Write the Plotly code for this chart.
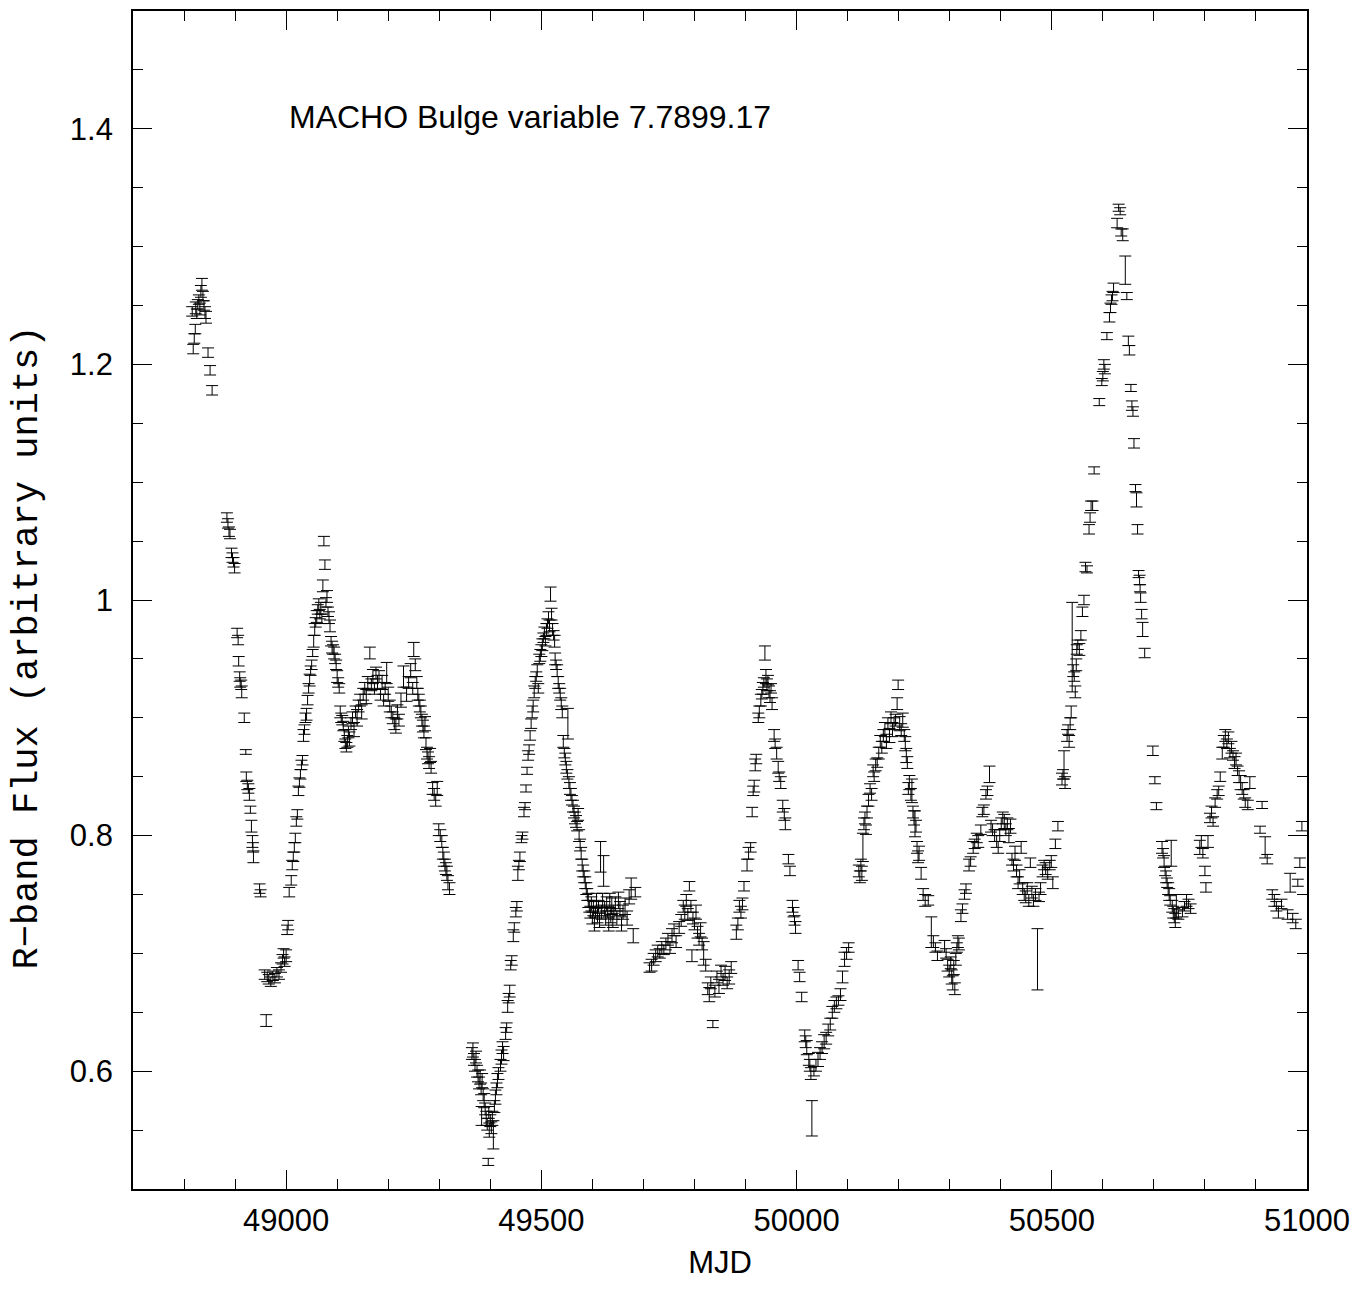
import plotly.graph_objects as go

# (MJD, R-band flux, error), one list per observing season
season_1 = [
    (48816,1.245,0.004),(48818,1.213,0.004),(48820,1.222,0.004),(48822,1.230,0.004),(48823,1.248,0.005),
    (48825,1.243,0.004),(48827,1.251,0.004),(48829,1.255,0.004),(48831,1.247,0.005),(48833,1.262,0.005),
    (48835,1.268,0.005),(48837,1.258,0.004),(48839,1.250,0.004),(48841,1.244,0.005),(48843,1.240,0.005),
    (48847,1.210,0.004),(48851,1.195,0.004),(48855,1.178,0.004),
    (48884,1.070,0.004),(48886,1.065,0.004),(48888,1.058,0.004),(48890,1.056,0.004),(48893,1.040,0.004),
    (48895,1.036,0.004),(48897,1.032,0.004),(48899,1.027,0.004),
    (48904,0.972,0.004),(48906,0.966,0.004),(48907,0.948,0.004),(48909,0.935,0.004),(48910,0.930,0.004),
    (48912,0.928,0.004),(48913,0.922,0.005),(48918,0.900,0.004),(48921,0.871,0.002),(48922,0.850,0.004),
    (48924,0.843,0.004),(48926,0.840,0.004),(48928,0.835,0.005),(48930,0.822,0.003),(48932,0.808,0.005),
    (48934,0.795,0.005),(48935,0.790,0.004),(48936,0.782,0.005),(48948,0.755,0.004),(48950,0.751,0.003),
    (48958,0.682,0.004),(48961,0.643,0.005),(48963,0.680,0.004),(48966,0.678,0.004),(48970,0.676,0.004),
    (48974,0.681,0.004),(48978,0.679,0.004),(48982,0.684,0.004),(48986,0.682,0.004),(48990,0.688,0.004),
    (48993,0.695,0.004),(48995,0.700,0.004),(48997,0.693,0.004),(49000,0.698,0.005),(49002,0.720,0.004),
    (49004,0.724,0.004),
    (49006,0.752,0.004),(49010,0.762,0.004),(49012,0.775,0.004),(49014,0.782,0.004),(49016,0.790,0.004),
    (49018,0.798,0.004),(49020,0.812,0.004),(49022,0.818,0.004),(49024,0.838,0.004),(49026,0.845,0.004),
    (49028,0.852,0.004),(49030,0.860,0.004),(49032,0.864,0.004),(49034,0.885,0.005),(49036,0.890,0.004),
    (49038,0.900,0.004),(49040,0.903,0.005),(49042,0.915,0.004),(49044,0.925,0.004),(49046,0.932,0.005),
    (49048,0.940,0.004),(49050,0.945,0.004),(49052,0.955,0.003),(49054,0.965,0.005),(49056,0.975,0.005),
    (49058,0.981,0.004),(49060,0.986,0.005),(49062,0.992,0.004),(49064,0.996,0.005),(49066,0.988,0.004),
    (49068,0.993,0.005),(49070,0.984,0.004),(49072,1.012,0.005),(49074,1.050,0.004),(49076,1.030,0.004),
    (49078,0.998,0.004),(49080,1.003,0.005),(49082,0.990,0.004),(49084,0.985,0.005),(49086,0.978,0.005),
    (49088,0.965,0.004),(49090,0.960,0.005),(49092,0.958,0.004),(49094,0.955,0.005),(49096,0.950,0.004),
    (49098,0.945,0.004),(49100,0.935,0.005),(49102,0.930,0.004),(49104,0.925,0.004),(49106,0.905,0.005),
    (49108,0.900,0.004),(49110,0.898,0.004),(49112,0.893,0.004),(49114,0.885,0.005),(49116,0.878,0.004),
    (49118,0.875,0.004),(49120,0.880,0.005),(49122,0.888,0.005),(49124,0.882,0.006),(49127,0.895,0.005),
    (49130,0.900,0.005),(49133,0.890,0.006),(49136,0.905,0.005),(49139,0.900,0.007),(49142,0.910,0.005),
    (49145,0.915,0.005),(49148,0.905,0.006),(49151,0.920,0.005),(49154,0.925,0.005),(49157,0.918,0.006),
    (49160,0.930,0.005),(49164,0.955,0.005),(49167,0.928,0.005),(49170,0.935,0.006),(49173,0.925,0.005),
    (49176,0.938,0.005),(49179,0.930,0.006),(49182,0.935,0.005),(49185,0.920,0.005),(49188,0.930,0.006),
    (49191,0.915,0.005),(49194,0.925,0.005),(49197,0.938,0.009),(49200,0.920,0.006),(49203,0.910,0.005),
    (49206,0.905,0.005),(49209,0.900,0.005),(49212,0.895,0.005),(49215,0.893,0.006),(49218,0.905,0.006),
    (49221,0.898,0.005),(49225,0.915,0.006),(49230,0.935,0.009),(49236,0.920,0.006),(49240,0.930,0.005),
    (49244,0.940,0.006),(49248,0.925,0.005),(49250,0.958,0.006),(49253,0.945,0.005),(49256,0.930,0.005),
    (49258,0.920,0.005),(49260,0.915,0.005),(49262,0.910,0.005),(49264,0.905,0.005),(49266,0.898,0.005),
    (49268,0.893,0.005),(49270,0.888,0.005),(49272,0.895,0.006),(49274,0.878,0.005),(49276,0.870,0.005),
    (49278,0.866,0.005),(49280,0.862,0.005),(49282,0.868,0.006),(49284,0.858,0.005),(49287,0.840,0.005),
    (49290,0.835,0.005),(49293,0.830,0.005),(49296,0.840,0.006),(49299,0.805,0.005),(49302,0.800,0.005),
    (49305,0.795,0.005),(49307,0.785,0.005),(49309,0.780,0.006),(49311,0.775,0.005),(49313,0.772,0.005),
    (49315,0.768,0.006),(49317,0.760,0.006),(49320,0.755,0.005),
]

season_2 = [
    (49364,0.615,0.005),(49366,0.618,0.006),(49368,0.610,0.005),(49370,0.605,0.005),(49372,0.612,0.005),
    (49374,0.600,0.005),(49376,0.596,0.005),(49378,0.590,0.005),(49380,0.595,0.006),(49382,0.585,0.005),
    (49383,0.562,0.008),(49384,0.592,0.006),(49386,0.580,0.005),(49388,0.575,0.006),(49390,0.568,0.005),
    (49392,0.560,0.006),(49394,0.555,0.005),(49396,0.523,0.003),(49397,0.565,0.005),(49398,0.550,0.006),
    (49400,0.558,0.005),(49402,0.552,0.005),(49404,0.560,0.006),(49406,0.546,0.012),(49408,0.570,0.005),
    (49410,0.578,0.006),(49412,0.585,0.005),(49414,0.592,0.006),(49416,0.598,0.005),(49420,0.605,0.005),
    (49422,0.612,0.006),(49424,0.620,0.005),(49426,0.615,0.006),(49430,0.632,0.005),(49432,0.637,0.004),
    (49434,0.655,0.005),(49436,0.662,0.004),(49438,0.668,0.005),
    (49440,0.690,0.004),(49442,0.694,0.004),(49445,0.715,0.005),(49447,0.722,0.004),(49450,0.735,0.004),
    (49452,0.740,0.004),(49454,0.768,0.006),(49456,0.775,0.004),(49458,0.782,0.004),(49461,0.797,0.003),
    (49463,0.800,0.003),(49466,0.820,0.004),(49468,0.825,0.003),(49470,0.840,0.003),(49472,0.855,0.003),
    (49474,0.868,0.004),(49476,0.873,0.004),(49478,0.885,0.004),(49480,0.895,0.004),(49482,0.905,0.005),
    (49484,0.910,0.005),(49486,0.922,0.005),(49488,0.930,0.005),(49490,0.935,0.004),(49492,0.940,0.005),
    (49494,0.925,0.004),(49496,0.950,0.004),(49498,0.953,0.005),(49500,0.957,0.005),(49502,0.962,0.005),
    (49504,0.968,0.004),(49506,0.972,0.005),(49508,0.965,0.004),(49510,0.975,0.005),(49512,0.980,0.004),
    (49514,0.985,0.005),(49516,0.978,0.005),(49518,1.005,0.006),(49520,0.988,0.005),(49522,0.975,0.005),
    (49524,0.970,0.004),(49526,0.965,0.005),
    (49527,0.950,0.005),(49529,0.945,0.004),(49531,0.940,0.005),(49533,0.930,0.005),(49535,0.925,0.004),
    (49537,0.920,0.005),(49539,0.912,0.005),(49541,0.905,0.005),(49543,0.880,0.005),(49545,0.870,0.004),
    (49547,0.865,0.005),(49549,0.858,0.005),(49551,0.852,0.004),(49552,0.895,0.013),(49554,0.845,0.005),
    (49556,0.840,0.005),(49558,0.835,0.005),(49560,0.830,0.004),(49562,0.825,0.005),(49564,0.820,0.005),
    (49566,0.815,0.005),(49568,0.812,0.005),(49570,0.808,0.004),(49572,0.818,0.005),(49574,0.800,0.005),
    (49576,0.792,0.005),(49578,0.785,0.005),(49580,0.775,0.005),(49582,0.770,0.005),(49584,0.765,0.005),
    (49586,0.760,0.005),(49588,0.755,0.005),(49590,0.750,0.005),(49592,0.745,0.006),(49594,0.740,0.005),
    (49596,0.735,0.005),(49598,0.742,0.006),(49600,0.730,0.005),(49602,0.738,0.006),(49604,0.725,0.006),
    (49606,0.735,0.005),(49608,0.745,0.006),(49610,0.732,0.006),(49612,0.740,0.005),(49614,0.728,0.006),
    (49616,0.782,0.013),(49618,0.735,0.006),(49620,0.745,0.006),(49622,0.770,0.013),(49624,0.738,0.006),
    (49626,0.730,0.006),(49628,0.742,0.006),(49630,0.735,0.005),(49632,0.725,0.006),(49634,0.745,0.006),
    (49636,0.732,0.006),(49638,0.740,0.007),(49640,0.728,0.006),(49642,0.735,0.006),(49645,0.742,0.006),
    (49648,0.730,0.006),(49651,0.745,0.007),(49654,0.738,0.006),(49657,0.725,0.006),(49660,0.735,0.006),
    (49664,0.740,0.007),(49668,0.730,0.006),(49672,0.748,0.006),(49676,0.755,0.009),(49680,0.715,0.006),
    (49684,0.752,0.004),
    (49712,0.688,0.004),(49716,0.690,0.005),(49720,0.695,0.005),(49724,0.698,0.005),(49728,0.702,0.005),
    (49732,0.700,0.004),(49736,0.705,0.005),(49740,0.703,0.004),(49744,0.708,0.005),(49748,0.712,0.005),
    (49752,0.705,0.005),(49756,0.715,0.006),(49760,0.720,0.005),(49764,0.710,0.005),
    (49770,0.722,0.005),(49774,0.728,0.005),(49778,0.740,0.005),(49781,0.735,0.006),(49784,0.745,0.005),
    (49787,0.733,0.005),(49790,0.757,0.004),(49793,0.740,0.005),(49795,0.698,0.005),(49797,0.730,0.005),
    (49800,0.725,0.005),(49803,0.735,0.006),(49806,0.718,0.005),(49809,0.712,0.005),(49812,0.720,0.006),
    (49815,0.708,0.005),(49818,0.700,0.010),(49822,0.690,0.005),(49826,0.670,0.005),(49829,0.665,0.006),
    (49832,0.675,0.005),(49836,0.640,0.003),(49840,0.668,0.005),(49844,0.680,0.005),(49848,0.672,0.006),
    (49852,0.685,0.005),(49856,0.678,0.005),(49860,0.683,0.006),(49864,0.675,0.005),(49868,0.680,0.006),
    (49872,0.688,0.005),
]

season_3 = [
    (49882,0.718,0.006),(49885,0.725,0.005),(49888,0.740,0.005),(49891,0.735,0.005),(49894,0.742,0.005),
    (49897,0.757,0.004),(49903,0.775,0.005),(49906,0.785,0.005),(49910,0.790,0.004),(49913,0.820,0.004),
    (49915,0.838,0.004),(49917,0.842,0.005),(49919,0.860,0.005),(49921,0.865,0.004),(49925,0.900,0.004),
    (49927,0.905,0.005),(49930,0.915,0.005),(49932,0.920,0.004),(49934,0.925,0.005),(49936,0.930,0.004),
    (49938,0.955,0.006),(49940,0.935,0.006),(49942,0.928,0.005),(49944,0.932,0.004),(49946,0.922,0.005),
    (49948,0.918,0.005),(49950,0.925,0.004),(49952,0.912,0.005),(49956,0.885,0.005),(49958,0.878,0.004),
    (49961,0.870,0.005),(49964,0.858,0.005),(49966,0.850,0.004),(49969,0.845,0.005),(49973,0.825,0.005),
    (49976,0.818,0.005),(49978,0.810,0.005),(49984,0.780,0.004),(49987,0.770,0.004),(49992,0.740,0.005),
    (49994,0.735,0.004),(49996,0.728,0.004),(49998,0.722,0.005),(50003,0.690,0.004),(50006,0.680,0.004),
    (50010,0.663,0.004),(50016,0.630,0.005),(50018,0.625,0.005),(50020,0.620,0.006),(50024,0.610,0.005),
    (50026,0.605,0.005),(50028,0.598,0.005),(50030,0.560,0.015),(50034,0.600,0.004),(50038,0.605,0.005),
    (50042,0.610,0.006),(50046,0.615,0.005),(50050,0.620,0.005),(50054,0.625,0.006),(50058,0.628,0.005),
    (50062,0.635,0.005),(50066,0.640,0.005),(50070,0.650,0.005),(50074,0.655,0.005),(50078,0.658,0.005),
    (50082,0.660,0.004),(50086,0.665,0.005),(50090,0.680,0.005),(50094,0.695,0.006),(50098,0.700,0.005),
    (50102,0.705,0.004),
    (50122,0.770,0.005),(50124,0.765,0.005),(50126,0.775,0.005),(50128,0.768,0.006),(50130,0.790,0.012),
    (50132,0.810,0.005),(50134,0.815,0.005),(50136,0.805,0.004),(50138,0.820,0.005),(50141,0.830,0.005),
    (50144,0.840,0.004),(50147,0.835,0.005),(50150,0.855,0.005),(50152,0.850,0.004),(50155,0.860,0.005),
    (50158,0.862,0.004),(50161,0.870,0.005),(50164,0.880,0.005),(50167,0.875,0.005),(50170,0.885,0.005),
    (50173,0.890,0.006),(50176,0.880,0.006),(50179,0.895,0.005),(50182,0.885,0.006),(50185,0.900,0.005),
    (50188,0.890,0.006),(50191,0.895,0.005),(50194,0.898,0.005),(50197,0.912,0.005),(50199,0.928,0.004),
    (50202,0.895,0.006),(50205,0.890,0.005),(50208,0.898,0.006),(50211,0.885,0.005),(50213,0.878,0.006),
    (50215,0.868,0.006),(50217,0.862,0.005),(50219,0.840,0.005),(50221,0.845,0.006),(50224,0.835,0.005),
    (50226,0.838,0.010),(50228,0.820,0.005),(50230,0.815,0.006),(50232,0.810,0.011),(50234,0.808,0.005),
    (50236,0.790,0.005),(50238,0.782,0.005),(50240,0.785,0.006),(50244,0.768,0.005),(50248,0.750,0.005),
    (50252,0.745,0.005),(50258,0.745,0.004),(50264,0.718,0.013),(50268,0.710,0.005),(50272,0.705,0.004),
    (50276,0.698,0.004),
]

season_4 = [
    (50290,0.706,0.005),(50293,0.700,0.004),(50296,0.690,0.005),(50299,0.685,0.005),(50302,0.692,0.005),
    (50304,0.680,0.006),(50306,0.675,0.006),(50308,0.688,0.006),(50310,0.670,0.005),(50312,0.695,0.005),
    (50314,0.705,0.004),(50316,0.710,0.005),(50318,0.708,0.005),(50322,0.732,0.005),(50325,0.738,0.004),
    (50329,0.750,0.004),(50332,0.755,0.004),(50338,0.775,0.005),(50341,0.778,0.004),(50346,0.790,0.005),
    (50349,0.793,0.004),(50353,0.798,0.004),(50356,0.795,0.005),(50361,0.805,0.004),(50364,0.820,0.004),
    (50367,0.822,0.004),(50371,0.835,0.004),(50374,0.838,0.004),(50378,0.852,0.007),(50381,0.808,0.005),
    (50384,0.805,0.005),(50388,0.800,0.005),(50392,0.795,0.005),(50395,0.790,0.005),(50398,0.800,0.005),
    (50401,0.810,0.005),(50404,0.815,0.005),(50407,0.812,0.006),(50410,0.805,0.005),(50413,0.810,0.005),
    (50416,0.800,0.006),(50419,0.808,0.006),(50422,0.780,0.005),(50425,0.775,0.005),(50428,0.785,0.006),
    (50431,0.770,0.005),(50434,0.760,0.005),(50437,0.765,0.006),(50440,0.790,0.005),(50443,0.755,0.005),
    (50446,0.750,0.005),(50449,0.748,0.005),(50452,0.755,0.005),(50455,0.745,0.005),(50458,0.777,0.004),
    (50461,0.752,0.005),(50464,0.745,0.005),(50468,0.750,0.005),(50472,0.695,0.026),(50475,0.748,0.004),
    (50478,0.755,0.005),(50482,0.770,0.005),(50485,0.775,0.004),(50488,0.772,0.005),(50492,0.768,0.005),
    (50496,0.775,0.004),(50499,0.778,0.005),(50502,0.760,0.005),(50507,0.793,0.004),(50512,0.808,0.004),
    (50520,0.848,0.005),(50522,0.852,0.004),(50524,0.860,0.012),(50526,0.845,0.005),(50530,0.885,0.005),
    (50532,0.890,0.004),(50534,0.880,0.005),(50536,0.895,0.005),(50538,0.905,0.005),(50540,0.960,0.038),
    (50542,0.940,0.005),(50544,0.935,0.004),(50546,0.922,0.005),(50548,0.945,0.005),(50549,0.958,0.004),
    (50551,0.962,0.004),(50554,0.958,0.005),(50557,0.970,0.004),(50560,0.990,0.004),(50563,1.000,0.004),
    (50566,1.028,0.004),(50569,1.026,0.003),(50573,1.060,0.004),(50575,1.070,0.004),(50577,1.080,0.004),
    (50580,1.080,0.004),(50583,1.110,0.003),(50593,1.168,0.003),(50598,1.185,0.003),(50600,1.190,0.004),
    (50602,1.200,0.004),(50604,1.196,0.004),(50608,1.224,0.003),(50613,1.240,0.004),(50615,1.248,0.004),
    (50617,1.255,0.004),(50619,1.258,0.004),(50621,1.265,0.004),(50628,1.320,0.004),(50631,1.333,0.003),
    (50634,1.330,0.003),(50636,1.312,0.003),(50639,1.310,0.005),(50644,1.280,0.012),(50647,1.258,0.003),
    (50650,1.220,0.004),(50652,1.212,0.004),(50655,1.180,0.003),(50657,1.165,0.004),(50659,1.160,0.004),
    (50661,1.133,0.004),(50664,1.095,0.003),(50666,1.085,0.006),(50668,1.060,0.004),(50670,1.022,0.003),
    (50672,1.017,0.004),(50673,1.010,0.003),(50674,1.002,0.004),(50676,0.988,0.004),(50678,0.975,0.006),
    (50682,0.955,0.004),(50698,0.872,0.004),(50702,0.847,0.003),(50705,0.825,0.003),
    (50716,0.790,0.005),(50718,0.785,0.004),(50720,0.778,0.005),(50722,0.770,0.004),(50724,0.765,0.005),
    (50726,0.760,0.004),(50728,0.755,0.005),(50730,0.750,0.005),(50732,0.745,0.004),(50734,0.785,0.011),
    (50736,0.740,0.005),(50738,0.735,0.005),(50740,0.732,0.006),(50742,0.728,0.006),(50744,0.740,0.010),
    (50748,0.733,0.004),(50756,0.735,0.004),(50760,0.740,0.004),(50764,0.745,0.005),(50768,0.742,0.004),
    (50772,0.738,0.004),(50790,0.790,0.006),(50793,0.795,0.005),(50796,0.785,0.004),(50800,0.770,0.004),
    (50802,0.756,0.004),(50806,0.795,0.005),(50810,0.815,0.004),(50813,0.820,0.005),(50816,0.812,0.004),
    (50820,0.828,0.004),(50824,0.835,0.004),(50827,0.838,0.004),(50830,0.850,0.004),(50834,0.870,0.005),
    (50837,0.880,0.005),(50840,0.885,0.005),(50843,0.878,0.004),(50846,0.883,0.005),(50849,0.870,0.004),
    (50852,0.875,0.005),(50855,0.868,0.004),(50858,0.862,0.005),(50861,0.865,0.005),(50864,0.855,0.004),
    (50867,0.850,0.005),(50870,0.845,0.006),(50873,0.840,0.005),(50876,0.835,0.004),(50879,0.828,0.004),
    (50884,0.826,0.004),(50888,0.845,0.005),(50908,0.805,0.003),(50912,0.826,0.003),(50918,0.790,0.009),
    (50922,0.780,0.004),(50932,0.750,0.004),(50936,0.745,0.005),(50940,0.740,0.004),(50944,0.735,0.005),
    (50950,0.742,0.004),(50962,0.733,0.004),(50967,0.760,0.008),(50972,0.730,0.004),(50978,0.725,0.004),
    (50982,0.760,0.003),(50986,0.777,0.004),(50990,0.808,0.004),
]

x_tick_vals = [49000, 49500, 50000, 50500, 51000]
x_tick_text = ["49000", "49500", "50000", "50500", "51000"]
y_tick_vals = [0.6, 0.8, 1.0, 1.2, 1.4]
y_tick_text = ["0.6", "0.8", "1", "1.2", "1.4"]

all_points = season_1 + season_2 + season_3 + season_4
mjd = [p[0] for p in all_points]
flux = [p[1] for p in all_points]
err = [p[2] for p in all_points]

fig = go.Figure()
fig.add_trace(go.Scatter(
    x=mjd, y=flux, mode="markers",
    marker=dict(size=1, color="rgba(0,0,0,0)"),
    error_y=dict(type="data", array=err, visible=True, color="black", thickness=1, width=6),
    showlegend=False, hoverinfo="x+y",
))

axis_font = dict(family="Liberation Sans, Arial, sans-serif", size=31, color="black")

fig.update_xaxes(
    range=[48700, 51000], showgrid=False, zeroline=False, automargin=False,
    showline=True, linecolor="black", linewidth=1.8, mirror="allticks",
    tickmode="array", tickvals=x_tick_vals, ticktext=x_tick_text,
    ticks="inside", ticklen=19, tickwidth=1, tickcolor="black",
    minor=dict(ticks="inside", ticklen=10, tickwidth=1, tickcolor="black", dtick=100, tick0=48700, showgrid=False),
    tickfont=axis_font, ticklabelstandoff=3,
    title=dict(text="MJD", font=axis_font, standoff=14),
)
fig.update_yaxes(
    range=[0.5, 1.5], showgrid=False, zeroline=False, automargin=False,
    showline=True, linecolor="black", linewidth=1.8, mirror="allticks",
    tickmode="array", tickvals=y_tick_vals, ticktext=y_tick_text,
    ticks="inside", ticklen=19, tickwidth=1, tickcolor="black",
    minor=dict(ticks="inside", ticklen=10, tickwidth=1, tickcolor="black", dtick=0.05, tick0=0.5, showgrid=False),
    tickfont=axis_font, ticklabelstandoff=12,
)

fig.add_annotation(
    text="MACHO Bulge variable 7.7899.17", x=49001, y=1.41, xref="x", yref="y",
    xanchor="left", yanchor="middle", showarrow=False,
    font=dict(family="Liberation Sans, Arial, sans-serif", size=32, color="black"),
)
fig.add_annotation(
    text="R\u2212band Flux (arbitrary units)", x=-0.09, y=0.46, xref="paper", yref="paper",
    xanchor="center", yanchor="middle", textangle=-90, showarrow=False,
    font=dict(family="Liberation Mono, Courier New, monospace", size=37, color="black"),
)

fig.update_layout(
    width=1369, height=1289,
    margin=dict(l=133, r=62, t=11, b=100, autoexpand=False),
    paper_bgcolor="white", plot_bgcolor="white",
)

fig.write_html("out.html")
